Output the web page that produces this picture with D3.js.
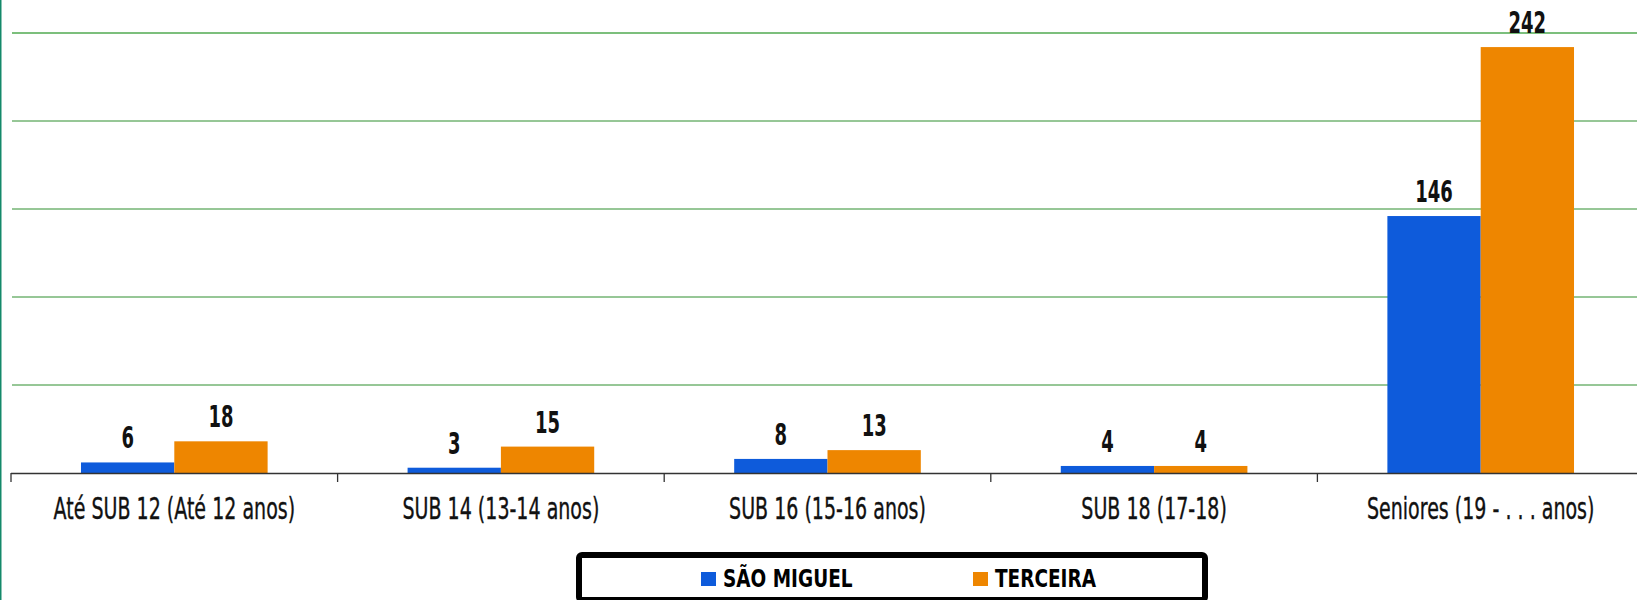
<!DOCTYPE html>
<html>
<head>
<meta charset="utf-8">
<script src="https://cdn.jsdelivr.net/npm/d3@7"></script>
<style>
  html, body { margin: 0; padding: 0; background: #fff; }
  svg { display: block; }
</style>
</head>
<body>
<svg id="chart" width="1637" height="600"></svg>
<script>
// DATA
var categories = ["Até SUB 12 (Até 12 anos)", "SUB 14 (13-14 anos)", "SUB 16 (15-16 anos)", "SUB 18 (17-18)", "Seniores (19 - . . . anos)"];
var seriesNames = ["SÃO MIGUEL", "TERCEIRA"];
var saoMiguel = [6, 3, 8, 4, 146];
var terceira = [18, 15, 13, 4, 242];
var yTicks = [0, 50, 100, 150, 200, 250];

// Constants
var width = 1637;
var height = 600;
var colors = ["#0e5bdb", "#ee8600"];
var font = "'DejaVu Sans', sans-serif";

var svg = d3.select("#chart");

var rows = categories.map(function (c, i) {
    return { cat: c, values: [saoMiguel[i], terceira[i]] };
});

// SCALES
var x0 = d3.scaleBand()
    .domain(categories)
    .range([11, 11 + 5 * 326.6]);
var x1 = d3.scaleBand()
    .domain(seriesNames)
    .range([0, x0.bandwidth()])
    .paddingOuter(0.75);
var y = d3.scaleLinear()
    .domain([0, 250])
    .range([473, 33]);

// left border
svg.append("rect")
    .attr("x", 0).attr("y", 0)
    .attr("width", 1.5).attr("height", height)
    .attr("fill", "#14896a");

// GRIDLINES
svg.selectAll(".grid")
    .data(yTicks.filter(function (d) { return d > 0; }))
    .enter().append("line")
    .attr("x1", 12).attr("x2", width)
    .attr("y1", function (d) { return y(d); })
    .attr("y2", function (d) { return y(d); })
    .attr("stroke", function (d) { return d === 250 ? "#7cbf7c" : "#2f8f2f"; })
    .attr("stroke-width", function (d) { return d === 250 ? 2 : 1; });

// BARS
var groups = svg.selectAll(".group")
    .data(rows)
    .enter().append("g")
    .attr("transform", function (d) { return "translate(" + x0(d.cat) + ",0)"; });

groups.selectAll("rect")
    .data(function (d) { return d.values.map(function (v, i) { return { s: seriesNames[i], v: v, i: i }; }); })
    .enter().append("rect")
    .attr("x", function (d) { return x1(d.s); })
    .attr("y", function (d) { return y(d.v); })
    .attr("width", x1.bandwidth())
    .attr("height", function (d) { return y(0) - y(d.v); })
    .attr("fill", function (d) { return colors[d.i]; });

// value labels (condensed look via horizontal scale)
groups.selectAll(".val")
    .data(function (d) { return d.values.map(function (v, i) { return { s: seriesNames[i], v: v }; }); })
    .enter().append("g")
    .attr("transform", function (d) {
        return "translate(" + (x1(d.s) + x1.bandwidth() / 2) + "," + (y(d.v) - 14) + ") scale(0.6,1)";
    })
    .append("text")
    .attr("text-anchor", "middle")
    .style("font-family", font)
    .style("font-size", "30px")
    .style("font-weight", "bold")
    .attr("fill", "#111")
    .text(function (d) { return d.v; });

// AXIS
var axis = svg.append("g")
    .attr("transform", "translate(0," + y(0) + ")");
axis.append("line")
    .attr("x1", 11).attr("x2", width)
    .attr("y1", 0.5).attr("y2", 0.5)
    .attr("stroke", "#333").attr("stroke-width", 1.3);
axis.selectAll(".tick")
    .data(categories)
    .enter().append("line")
    .attr("x1", function (d) { return x0(d); })
    .attr("x2", function (d) { return x0(d); })
    .attr("y1", 0).attr("y2", 9)
    .attr("stroke", "#333").attr("stroke-width", 1.3);

// category labels
axis.selectAll(".lbl")
    .data(categories)
    .enter().append("g")
    .attr("transform", function (d) {
        return "translate(" + (x0(d) + x0.bandwidth() / 2) + ",46) scale(0.635,1)";
    })
    .append("text")
    .attr("text-anchor", "middle")
    .style("font-family", font)
    .style("font-size", "30px")
    .attr("fill", "#111")
    .attr("stroke", "#111")
    .attr("stroke-width", 0.4)
    .text(function (d) { return d; });

// LEGEND
var legend = svg.append("g");
legend.append("rect")
    .attr("x", 579).attr("y", 555)
    .attr("width", 626).attr("height", 45)
    .attr("rx", 3)
    .attr("fill", "#fff")
    .attr("stroke", "#000")
    .attr("stroke-width", 6);

var legendX = [701, 973];
var items = legend.selectAll(".item")
    .data(seriesNames)
    .enter().append("g")
    .attr("transform", function (d, i) { return "translate(" + legendX[i] + ",0)"; });
items.append("rect")
    .attr("x", 0).attr("y", 572)
    .attr("width", 15).attr("height", 14)
    .attr("fill", function (d, i) { return colors[i]; });
items.append("g")
    .attr("transform", "translate(22,587) scale(0.77,1)")
    .append("text")
    .style("font-family", font)
    .style("font-size", "24px")
    .style("font-weight", "bold")
    .attr("fill", "#000")
    .text(function (d) { return d; });
</script>
</body>
</html>
